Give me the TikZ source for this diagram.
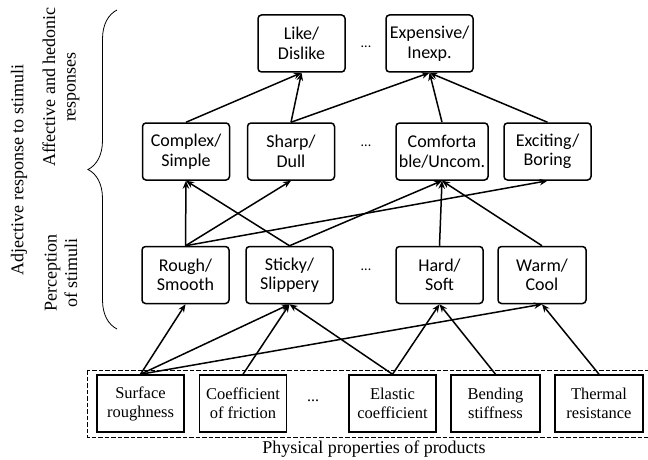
\documentclass[tikz,border=0pt]{standalone}
\usepackage{fontspec}
\setmainfont{Liberation Serif}
\newfontfamily\carlito{Carlito}
\usetikzlibrary{arrows.meta,decorations.pathreplacing}
\begin{document}
\begin{tikzpicture}[x=1pt,y=-1pt,
  adjbox/.style={draw,line width=1.5pt,rounded corners=3.5pt,minimum width=87pt,
    minimum height=57pt,inner xsep=2pt,align=center,
    font=\carlito\fontsize{18}{19.5}\selectfont},
  propbox/.style={draw,line width=1.5pt,minimum width=87pt,minimum height=57pt,
    inner xsep=3pt,align=center,font=\fontsize{16.5}{19}\selectfont},
  link/.style={line width=1.5pt,-{Stealth[length=8pt,width=6.5pt]}},
  dotsnode/.style={font=\carlito\fontsize{14}{14}\selectfont},
  sidelabel/.style={rotate=90,align=center,font=\fontsize{18}{20.5}\selectfont}]
\useasboundingbox (0,0) rectangle (648,460);

% affective and hedonic responses
\node[adjbox] (like) at (301.5,43.5) {Like/\\Dislike};
\node[adjbox] (exp)  at (429.5,43.5) {Expensive/\\Inexp.};
\node[dotsnode] at (366,47) {...};

% adjective layer
\node[adjbox] (cplx)  at (186,151.5) {Complex/\\Simple};
\node[adjbox] (sharp) at (291,151.5) {Sharp/\\Dull};
\node[adjbox,minimum width=92pt] (comf) at (442,151.5) {Comforta\\ble/Uncom.};
\node[adjbox] (exc)   at (547.5,151.5) {Exciting/\\Boring};
\node[dotsnode] at (366,146) {...};

% perception of stimuli
\node[adjbox] (rough)  at (185.5,275) {Rough/\\Smooth};
\node[adjbox] (sticky) at (289.5,275) {Sticky/\\Slippery};
\node[adjbox] (hard)   at (439.5,275) {Hard/\\Soft};
\node[adjbox,minimum width=88pt] (warm) at (542,275) {Warm/\\Cool};
\node[dotsnode] at (366,270) {...};

% physical properties
\draw[line width=1pt,dash pattern=on 4.5pt off 2pt] (87,370) rectangle (652,437);
\node[propbox] (surf)  at (140.5,403.5) {Surface\\roughness};
\node[propbox] (coef)  at (243,403.5) {Coefficient\\of friction};
\node[propbox] (elas)  at (392.5,403.5) {Elastic\\coefficient};
\node[propbox,minimum width=89pt] (bend) at (495.5,403.5) {Bending\\stiffness};
\node[propbox,minimum width=88pt] (therm) at (599,403.5) {Thermal\\resistance};
\node[font=\fontsize{16}{16}\selectfont] at (313,401) {...};
\node[font=\fontsize{18}{18}\selectfont] (phys) at (374,449) {Physical properties of products};

% links between layers
\draw[link] (cplx.north)  -- (like.south);
\draw[link] (sharp.north) -- (like.south);
\draw[link] (sharp.north) -- (exp.south);
\draw[link] (comf.north)  -- (exp.south);
\draw[link] (exc.north)   -- (exp.south);

\draw[link] (rough.north)  -- (cplx.south);
\draw[link] (rough.north)  -- (sharp.south);
\draw[link] (rough.north)  -- (exc.south);
\draw[link] (sticky.north) -- (cplx.south);
\draw[link] (sticky.north) -- (comf.south);
\draw[link] (hard.north)   -- (comf.south);
\draw[link] (warm.north)   -- (comf.south);

\draw[link] (surf.north)  -- (rough.south);
\draw[link] (surf.north)  -- (sticky.south);
\draw[link] (surf.north)  -- (warm.south);
\draw[link] (coef.north)  -- (sticky.south);
\draw[link] (elas.north)  -- (sticky.south);
\draw[link] (elas.north)  -- (hard.south);
\draw[link] (bend.north)  -- (hard.south);
\draw[link] (therm.north) -- (warm.south);

% grouping brace and side labels
\coordinate (bracelow) at (117,329);
\coordinate (bracehigh) at (117,10);
\draw[line width=0.8pt,decorate,decoration={brace,amplitude=29pt}] (bracelow) -- (bracehigh);
\node[sidelabel] (affect) at (61,87) {Affective and hedonic\\responses};
\node[sidelabel] (percep) at (61,273) {Perception\\of stimuli};
\node[sidelabel] (adject) at (19,170) {Adjective response to stimuli};
\end{tikzpicture}
\end{document}
